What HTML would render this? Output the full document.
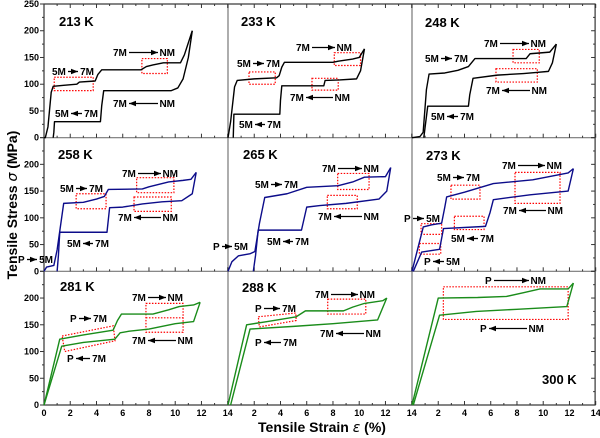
<!DOCTYPE html>
<html><head><meta charset="utf-8">
<style>
html,body{margin:0;padding:0;background:#fff;}
svg{display:block;font-family:"Liberation Sans",Arial,sans-serif;}
</style></head>
<body>
<svg id="chart" width="600" height="438" viewBox="0 0 600 438" xmlns="http://www.w3.org/2000/svg">
<text transform="translate(17,205) rotate(-90)" text-anchor="middle" font-size="14" font-weight="bold">Tensile Stress <tspan font-style="italic" font-family="'DejaVu Sans',sans-serif" font-weight="normal">σ</tspan> (MPa)</text>
<text x="322" y="432" text-anchor="middle" font-size="14" font-weight="bold">Tensile Strain <tspan font-style="italic" font-family="'DejaVu Sans',sans-serif" font-weight="normal">ε</tspan> (%)</text>
</svg>
<script>
const xTicks = [0,2,4,6,8,10,12,14];
const yTicksTop = [0,50,100,150,200,250];
const yTicksOther = [0,50,100,150,200];

const load213 = [[0,0],[0.1,0],[0.3,20],[0.55,85],[0.7,96],[1.5,98],[2.5,100],[2.7,104],[3.9,106],[4.1,118],[4.4,127],[7.4,127],[7.8,133],[8.3,136],[9.1,140],[10.4,140],[10.7,155],[11.3,200]];
const unload213 = [[11.3,200],[11.0,150],[10.6,110],[10.2,93],[9.7,88],[4.55,88],[4.4,60],[4.3,30],[0.8,30],[0.75,10],[0.7,0]];
const load233 = [[0,0],[0.2,30],[0.5,95],[0.7,107],[2,110],[3.7,112],[3.9,116],[4.1,132],[4.3,141],[8.0,141],[8.4,143],[9.5,147],[10.0,150],[10.4,166]];
const unload233 = [[10.4,166],[10.1,125],[9.8,110],[8.5,108],[7.4,107],[7.3,97],[4.1,97],[4.0,70],[3.95,44],[0.45,44],[0.4,0]];
const load248 = [[0,0],[0.6,2],[0.85,10],[1.1,90],[1.3,119],[2.5,121],[3.5,126],[4.3,133],[4.8,148],[8.7,148],[9.0,157],[10.5,160],[11.0,175]];
const unload248 = [[11.0,175],[10.7,140],[10.4,124],[9.5,122],[8.5,120],[6.5,117],[4.65,111],[4.4,80],[4.3,59],[1.2,59],[1.0,20],[0.9,0]];
const load258 = [[0,0],[0.2,8],[0.75,11],[1.0,40],[1.5,127],[3,129],[4,135],[4.6,140],[4.9,153],[7.5,154],[8,158],[9.5,167],[10.6,170],[11.2,172],[11.6,185]];
const unload258 = [[11.6,185],[11.3,145],[10.5,132],[9,130],[7.5,126],[6,120],[5.0,119],[4.8,73],[1.2,73],[1.1,30],[1.0,0]];
const load265 = [[0,0],[0.3,18],[0.8,29],[1.7,33],[2.05,37],[2.4,90],[2.8,138],[4.5,145],[6.0,157],[8.4,160],[9.5,167],[10.4,176],[12.0,177],[12.4,194]];
const unload265 = [[12.4,194],[12.1,150],[11.5,135],[9,127],[7,123],[6.0,120],[5.6,77],[2.3,77],[2.1,30],[1.93,0]];
const load273 = [[0,0],[0.86,83],[1.5,87],[2.26,90],[2.5,120],[2.64,139],[4,148],[6.2,164],[9.2,171],[11.9,184],[12.3,192]];
const unload273 = [[12.3,192],[11.9,150],[9,143],[6.2,134],[5.95,110],[5.6,84],[2.4,80],[2.1,41],[0.74,36],[0.1,0]];
const load281 = [[0,0],[1.2,123],[3,131],[5.27,140],[5.6,158],[5.9,170],[8.3,170],[9.5,178],[10.3,184],[11.4,187],[11.9,192]];
const unload281 = [[11.9,192],[11.4,156],[10,152],[8,142],[6.5,138],[5.8,135],[5.4,123],[3,117],[1.35,110],[0,0]];
const load288 = [[0,0],[1.42,150],[3,156],[5.2,165],[5.9,176],[8.8,176],[9.5,183],[10.4,190],[11.8,195],[12.1,200]];
const unload288 = [[12.1,200],[11.4,159],[8,152],[5,147],[1.68,142],[0.2,0]];
const load300 = [[0,0],[2.0,200],[5,201],[7.2,203],[8.5,210],[9.75,217],[11.9,217],[12.3,228]];
const unload300 = [[12.3,228],[11.8,184],[8,179],[4.9,175],[2.1,168],[0.1,0]];

const boxes213 = [[0.78,113,3.75,88],[7.46,148,9.4,120]];
const boxes233 = [[1.6,123,3.6,100],[8.1,159,10.1,135],[6.4,111,8.4,89]];
const boxes248 = [[7.7,165,9.7,140],[6.4,129,9.55,104]];
const boxes258 = [[2.45,145,4.73,117],[7.06,175,9.9,147],[6.86,139,9.7,112]];
const boxes265 = [[8.36,183,10.75,153],[7.57,142,9.85,117]];
const boxes273 = [[2.97,161,5.18,135],[7.85,185,11.28,127],[3.23,103,5.49,78],[0.69,89,2.26,69],[0.56,52,2.19,32]];
const boxes281 = [[7.77,190,10.6,136]];
const boxes288 = [[7.6,198,10.5,170]];
const boxes300 = [];
const polys281 = [[[1.38,129],[5.28,148],[5.41,120],[1.58,100]]];
const polys288 = [[[2.31,165],[5.16,172],[5.2,158],[2.39,146]]];
const polys300 = [[[2.39,221],[11.9,221],[11.9,160],[2.39,160]]];
const lines281 = [[[7.77,163],[10.6,163]]];

const NS = 'http://www.w3.org/2000/svg';
const svg = document.getElementById('chart');
const colX0 = [44, 228, 412];
const rowBase = [137.7, 271.3, 405];
const panelW = 183.7, panelH = 133.7;
function sx(c, v){ return colX0[c] + v * panelW / 14; }
function sy(r, v){ return rowBase[r] - v * panelH / 250; }
function mk(tag, attrs, parent){
  const e = document.createElementNS(NS, tag);
  for (const k in attrs) e.setAttribute(k, attrs[k]);
  (parent || svg).appendChild(e);
  return e;
}

const panels = [
  {t:'213 K', c:0, r:0, col:'#000', ld:load213, ul:unload213, bx:boxes213, pg:[], ln:[], tl:[59,26]},
  {t:'233 K', c:1, r:0, col:'#000', ld:load233, ul:unload233, bx:boxes233, pg:[], ln:[], tl:[241,26]},
  {t:'248 K', c:2, r:0, col:'#000', ld:load248, ul:unload248, bx:boxes248, pg:[], ln:[], tl:[425,27]},
  {t:'258 K', c:0, r:1, col:'#0c0c8a', ld:load258, ul:unload258, bx:boxes258, pg:[], ln:[], tl:[58,159]},
  {t:'265 K', c:1, r:1, col:'#0c0c8a', ld:load265, ul:unload265, bx:boxes265, pg:[], ln:[], tl:[243,159]},
  {t:'273 K', c:2, r:1, col:'#0c0c8a', ld:load273, ul:unload273, bx:boxes273, pg:[], ln:[], tl:[426,160]},
  {t:'281 K', c:0, r:2, col:'#1a8c1a', ld:load281, ul:unload281, bx:boxes281, pg:polys281, ln:lines281, tl:[60,291]},
  {t:'288 K', c:1, r:2, col:'#1a8c1a', ld:load288, ul:unload288, bx:boxes288, pg:polys288, ln:[], tl:[242,292]},
  {t:'300 K', c:2, r:2, col:'#1a8c1a', ld:load300, ul:unload300, bx:boxes300, pg:polys300, ln:[], tl:[542,384]}
];

// frame
const frame = mk('rect', {x:44, y:4, width:551.1, height:401, fill:'none', stroke:'#333', 'stroke-width':1.2});


for (let i = 1; i < 3; i++) {
  const v = mk('line', {x1:colX0[i], y1:4, x2:colX0[i], y2:405, stroke:'#777', 'stroke-width':1.2});
  
  
  const h = mk('line', {x1:44, y1:rowBase[i-1], x2:595.1, y2:rowBase[i-1], stroke:'#777', 'stroke-width':1.2});
  
  
}
// x ticks
for (let r = 0; r < 3; r++) {
  for (let c = 0; c < 3; c++) {
    for (let v = 0; v <= 14; v++) {
      const x = sx(c, v), len = (v % 2 === 0) ? 4 : 2;
      const t = mk('line', {x1:x, y1:rowBase[r], x2:x, y2:rowBase[r] - len, stroke:'#333', 'stroke-width':1});
      
      
      if (r === 0) {
        const t2 = mk('line', {x1:x, y1:4, x2:x, y2:4 + len, stroke:'#333', 'stroke-width':1});
        
        
      }
    }
  }
}
for (let c = 0; c < 3; c++) {
  xTicks.forEach(v => {
    if (c > 0 && v === 0) return;
    const lb = mk('text', {x:sx(c, v), y:416, 'text-anchor':'middle', 'font-size':9, 'font-weight':'bold'});
    lb.textContent = v;
    
    
  });
}
// y ticks
for (let r = 0; r < 3; r++) {
  for (let v = 0; v <= 250; v += 25) {
    const len = (v % 50 === 0) ? 4 : 2;
    const t = mk('line', {x1:44, y1:sy(r, v), x2:44 - len, y2:sy(r, v), stroke:'#333', 'stroke-width':1});
    
    
    const t2 = mk('line', {x1:595.1, y1:sy(r, v), x2:595.1 - len, y2:sy(r, v), stroke:'#333', 'stroke-width':1});
    
    
  }
  (r === 0 ? yTicksTop : yTicksOther).forEach(v => {
    const lb = mk('text', {x:39, y:sy(r, v) + 3, 'text-anchor':'end', 'font-size':9, 'font-weight':'bold'});
    lb.textContent = v;
    
    
  });
}

function pathOf(p, pts){
  return pts.map((q, i) => (i ? 'L' : 'M') + sx(p.c, q[0]).toFixed(2) + ',' + sy(p.r, q[1]).toFixed(2)).join(' ');
}
panels.forEach(p => {
  p.bx.forEach(b => {
    const rc = mk('rect', {x:sx(p.c, b[0]), y:sy(p.r, b[1]), width:sx(p.c, b[2]) - sx(p.c, b[0]), height:sy(p.r, b[3]) - sy(p.r, b[1]), fill:'none', stroke:'#f00', 'stroke-width':1.2, 'stroke-dasharray':'1.5,1.5'});
    
    
  });
  p.pg.forEach(g => {
    const pg = mk('path', {d:pathOf(p, g) + ' Z', fill:'none', stroke:'#f00', 'stroke-width':1.2, 'stroke-dasharray':'1.5,1.5'});
    
    
  });
  p.ln.forEach(g => {
    const l = mk('path', {d:pathOf(p, g), fill:'none', stroke:'#f00', 'stroke-width':1.2, 'stroke-dasharray':'1.5,1.5'});
    
    
  });
  const a = mk('path', {d:pathOf(p, p.ld), fill:'none', stroke:p.col, 'stroke-width':1.4, 'stroke-linejoin':'round'});
  
  
  const u = mk('path', {d:pathOf(p, p.ul), fill:'none', stroke:p.col, 'stroke-width':1.4, 'stroke-linejoin':'round'});
  
  
  const tt = mk('text', {x:p.tl[0], y:p.tl[1], 'font-size':13, 'font-weight':'bold'});
  tt.textContent = p.t;
  
  
});

// transition annotations: [x1, x2, y, leftText, rightText, direction]
const notes = [
  [113,175,56,'7M','NM',1],[52,94,75,'5M','7M',1],[113,175,107,'7M','NM',-1],[55,98,117,'5M','7M',-1],
  [296,352,51,'7M','NM',1],[237,280,67,'5M','7M',1],[290,350,101,'7M','NM',-1],[239,281,128,'5M','7M',-1],
  [484,546,47,'7M','NM',1],[425,468,62,'5M','7M',1],[486,547,94,'7M','NM',-1],[431,474,120,'5M','7M',-1],
  [122,178,177,'7M','NM',1],[60,103,192,'5M','7M',1],[118,178,221,'7M','NM',-1],[67,109,247,'5M','7M',-1],[18,53,263,'P','5M',1],
  [322,379,172,'7M','NM',1],[255,298,188,'5M','7M',1],[318,379,220,'7M','NM',-1],[267,309,245,'5M','7M',-1],[213,248,250,'P','5M',1],
  [502,562,169,'7M','NM',1],[437,480,181,'5M','7M',1],[503,563,214,'7M','NM',-1],[404,440,222,'P','5M',1],[451,494,242,'5M','7M',-1],[424,460,265,'P','5M',-1],
  [132,183,301,'7M','NM',1],[70,107,322,'P','7M',1],[132,193,344,'7M','NM',-1],[67,106,362,'P','7M',-1],
  [315,375,298,'7M','NM',1],[255,296,312,'P','7M',1],[320,381,337,'7M','NM',-1],[255,297,346,'P','7M',-1],
  [485,546,284,'P','NM',1],[480,544,332,'P','NM',-1]
];
function tw(s){ return s === 'P' ? 7 : (s === 'NM' ? 15 : 14); }
notes.forEach(n => {
  const g = mk('g', {});
  
  
  const l = mk('text', {x:n[0], y:n[2], 'font-size':10, 'font-weight':'bold'}, g);
  l.textContent = n[3];
  const rt = mk('text', {x:n[1], y:n[2], 'font-size':10, 'font-weight':'bold', 'text-anchor':'end'}, g);
  rt.textContent = n[4];
  const ax1 = n[0] + tw(n[3]) + 2, ax2 = n[1] - tw(n[4]) - 2, ay = n[2] - 3.5;
  mk('line', {x1:ax1, y1:ay, x2:ax2, y2:ay, stroke:'#000', 'stroke-width':1.3}, g);
  const tip = n[5] > 0 ? ax2 : ax1, d = n[5] > 0 ? -7 : 7;
  mk('polygon', {points: tip + ',' + ay + ' ' + (tip + d) + ',' + (ay - 2.8) + ' ' + (tip + d) + ',' + (ay + 2.8), fill:'#000'}, g);
});
</script>
</body></html>
